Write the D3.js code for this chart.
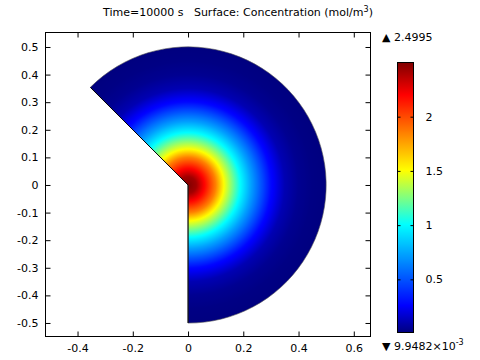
<!DOCTYPE html>
<html>
<head>
<meta charset="utf-8">
<script src="https://cdn.jsdelivr.net/npm/d3@7"></script>
<style>
  body { margin: 0; background: #fff; }
  svg { font-family: "DejaVu Sans", sans-serif; font-size: 11px; }
</style>
</head>
<body>
<svg width="480" height="360"></svg>
<script>
// radial concentration profile (distance from origin, mol/m^3)
const radius = [0, 0.03, 0.065, 0.1, 0.13, 0.16, 0.19, 0.23, 0.265, 0.3, 0.35, 0.4, 0.45, 0.5];
const conc = [2.4995, 2.42, 2.15, 1.85, 1.5, 1.25, 1.0, 0.72, 0.5, 0.28, 0.11, 0.045, 0.02, 0.0099];

// geometry: disk of radius 0.5 with a wedge cut out between 135 and 270 deg
const diskR = 0.5;
const cutAngles = [135, -90];

const xTicks = [-0.4, -0.2, 0, 0.2, 0.4, 0.6];
const yTicks = [-0.5, -0.4, -0.3, -0.2, -0.1, 0, 0.1, 0.2, 0.3, 0.4, 0.5];
const barTicks = [0.5, 1, 1.5, 2];
const cMin = 0.0099482, cMax = 2.4995;

// rainbow colour table (fraction of range -> colour)
const rainbowStops = [0, 0.1, 0.4, 0.6, 0.88, 1];
const rainbowColors = ['#00007f', '#0000ff', '#00ffff', '#ffff00', '#ff0000', '#800000'];

const svg = d3.select('svg');
const defs = svg.append('defs');

const x = d3.scaleLinear().domain([-0.516, 0.6605]).range([45.5, 370.5]);
const y = d3.scaleLinear().domain([-0.549, 0.5525]).range([336.5, 32.5]);

const color = d3.scaleLinear()
  .domain(rainbowStops.map(t => cMin + t * (cMax - cMin)))
  .range(rainbowColors);

const profile = d3.scaleLinear().domain(radius).range(conc);

// surface: radial gradient centred at the origin (path is translated there)
const px0 = x(0), py0 = y(0);
const pr = x(diskR) - x(0);
const grad = defs.append('radialGradient')
  .attr('id', 'surf')
  .attr('gradientUnits', 'userSpaceOnUse')
  .attr('cx', 0).attr('cy', 0).attr('r', pr)
  .attr('fx', 0).attr('fy', 0);
grad.selectAll('stop')
  .data(d3.range(0, 101))
  .enter()
  .append('stop')
  .attr('offset', i => i + '%')
  .attr('stop-color', i => color(profile(i / 100 * diskR)));

const toD3 = deg => (90 - deg) * Math.PI / 180;
const arc = d3.arc()
  .innerRadius(0)
  .outerRadius(pr)
  .startAngle(toD3(cutAngles[0]))
  .endAngle(toD3(cutAngles[1]));

const plot = svg.append('g');

plot.append('path')
  .attr('transform', `translate(${px0},${py0})`)
  .attr('d', arc())
  .attr('fill', 'url(#surf)')
  .attr('stroke', '#555')
  .attr('stroke-width', 0.6);

// cut edges
cutAngles.forEach(a => {
  const rad = a * Math.PI / 180;
  plot.append('line')
    .attr('x1', px0).attr('y1', py0)
    .attr('x2', x(diskR * Math.cos(rad)))
    .attr('y2', y(diskR * Math.sin(rad)))
    .attr('stroke', '#000')
    .attr('stroke-width', 1);
});

// axes with inward ticks
const fmt = d => String(d);
const axes = svg.append('g');
axes.append('g')
  .attr('transform', `translate(0,${y.range()[0]})`)
  .call(d3.axisBottom(x).tickValues(xTicks).tickSize(-5).tickSizeOuter(0).tickPadding(8).tickFormat(fmt));
axes.append('g')
  .attr('transform', `translate(0,${y.range()[1]})`)
  .call(d3.axisTop(x).tickValues(xTicks).tickSize(-5).tickSizeOuter(0).tickFormat(''));
axes.append('g')
  .attr('transform', `translate(${x.range()[0]},0)`)
  .call(d3.axisLeft(y).tickValues(yTicks).tickSize(-5).tickSizeOuter(0).tickPadding(7).tickFormat(fmt));
axes.append('g')
  .attr('transform', `translate(${x.range()[1]},0)`)
  .call(d3.axisRight(y).tickValues(yTicks).tickSize(-5).tickSizeOuter(0).tickFormat(''));
axes.selectAll('.domain').remove();
axes.selectAll('text').attr('font-family', 'DejaVu Sans').attr('font-size', 11).attr('fill', '#000');

svg.append('rect')
  .attr('x', x.range()[0]).attr('y', y.range()[1])
  .attr('width', x.range()[1] - x.range()[0])
  .attr('height', y.range()[0] - y.range()[1])
  .attr('fill', 'none')
  .attr('stroke', '#000');

// title
const title = svg.append('text')
  .attr('x', 238).attr('y', 16)
  .attr('text-anchor', 'middle')
  .text('Time=10000 s\u00a0\u00a0\u00a0Surface: Concentration (mol/m');
title.append('tspan').attr('dy', -4).attr('font-size', 8).text('3');
title.append('tspan').attr('dy', 4).text(')');

// colour bar
const cb = d3.scaleLinear().domain([cMin, cMax]).range([332.5, 62.5]);
const cbX = 397.5, cbW = 16;
const lg = defs.append('linearGradient')
  .attr('id', 'bar')
  .attr('x1', 0).attr('y1', 1).attr('x2', 0).attr('y2', 0);
lg.selectAll('stop')
  .data(d3.range(0, 101))
  .enter()
  .append('stop')
  .attr('offset', i => i + '%')
  .attr('stop-color', i => color(cMin + i / 100 * (cMax - cMin)));

svg.append('rect')
  .attr('x', cbX).attr('y', cb.range()[1])
  .attr('width', cbW).attr('height', cb.range()[0] - cb.range()[1])
  .attr('fill', 'url(#bar)')
  .attr('stroke', '#000');

const cbAxes = svg.append('g');
cbAxes.append('g')
  .attr('transform', `translate(${cbX + cbW},0)`)
  .call(d3.axisRight(cb).tickValues(barTicks).tickSize(-3).tickSizeOuter(0).tickPadding(12).tickFormat(fmt));
cbAxes.append('g')
  .attr('transform', `translate(${cbX},0)`)
  .call(d3.axisLeft(cb).tickValues(barTicks).tickSize(-3).tickSizeOuter(0).tickFormat(''));
cbAxes.selectAll('.domain').remove();
cbAxes.selectAll('text').attr('font-family', 'DejaVu Sans').attr('font-size', 11).attr('fill', '#000');

// max / min labels
svg.append('text')
  .attr('x', 382).attr('y', 41)
  .text('\u25B2 ' + cMax);
const minLabel = svg.append('text')
  .attr('x', 382).attr('y', 350)
  .text('\u25BC 9.9482\u00d710');
minLabel.append('tspan').attr('dy', -5).attr('font-size', 8).text('-3');
</script>
</body>
</html>
